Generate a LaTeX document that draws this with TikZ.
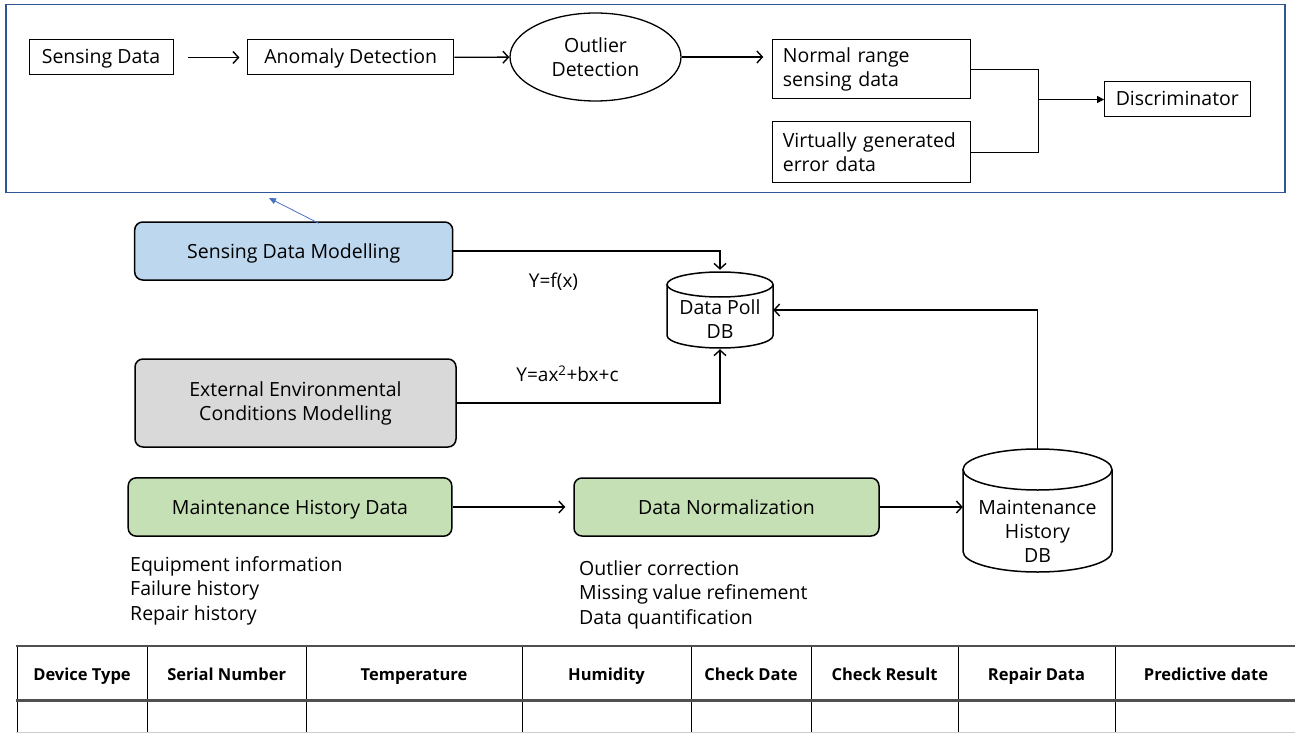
\documentclass[tikz,border=0pt]{standalone}
\usepackage{fontspec}
\setmainfont{Open Sans}
\usetikzlibrary{arrows.meta,shapes.geometric,calc}
\definecolor{frameblue}{HTML}{2F5597}
\definecolor{fillblue}{HTML}{BDD7EE}
\definecolor{fillgray}{HTML}{D9D9D9}
\definecolor{fillgreen}{HTML}{C5E0B4}
\definecolor{arrowblue}{HTML}{4472C4}
\definecolor{tablegray}{HTML}{505050}
\begin{document}
\begin{tikzpicture}[x=1pt,y=-1pt,
  every node/.style={font=\fontsize{19.5}{24}\selectfont, inner sep=0pt},
  oneline/.style={text height=14pt, text depth=1pt},
  lowline/.style={text height=14pt, text depth=-2pt},
  plainbox/.style={draw, line width=1pt, minimum height=35pt, oneline},
  leftbox/.style={draw, line width=1pt, inner xsep=10pt, text width=178pt, align=left, minimum height=59pt},
  rbox/.style={draw, line width=1.5pt, rounded corners=8pt, align=center},
  arr/.style={line width=1.4pt, -{Straight Barb[length=5.5pt,width=12pt]}},
  thinline/.style={line width=1pt},
  formula/.style={font=\fontsize{19}{22}\selectfont, text height=13.5pt, text depth=0pt},
  listtext/.style={align=left, anchor=north west, font=\fontsize{19.5}{24.5}\selectfont},
  th/.style={font=\bfseries\fontsize{16.5}{19}\selectfont, text height=12pt, text depth=0pt},
  dbline/.style={line width=1.5pt}
]
\useasboundingbox (0,0) rectangle (1295,733);

% ---------- top frame ----------
\draw[frameblue, line width=1.5pt] (6,4.5) rectangle (1285,192.5);

\node[plainbox, minimum width=144pt] (sd) at (101,57.5) {Sensing Data};
\node[plainbox, minimum width=206.5pt] (ad) at (350.7,57.5) {Anomaly Detection};
\node[ellipse, draw, line width=1.3pt, minimum width=171pt, minimum height=88pt, align=center] (od) at (595.5,57) {Outlier\\Detection};
\node[leftbox] (nr) at (871.8,69.5) {Normal range\\sensing data};
\node[leftbox, minimum height=60pt] (vg) at (871.8,152) {Virtually generated\\error data};
\node[plainbox, minimum width=145.4pt] (disc) at (1177.3,99.5) {Discriminator};
\coordinate (mj) at (1038,99.5);

\draw[arr, shorten <=14pt, shorten >=7.5pt] (sd) -- (ad);
\draw[arr] (ad) -- (od);
\draw[arr, shorten >=9pt] (od.east) -- (od.east -| nr.west);
\draw[thinline] (nr.east) -| (mj) |- (vg.east);
\draw[thinline, -{Triangle[length=7pt,width=7pt]}] (mj) -- (disc.west);

% ---------- middle ----------
\node[rbox, lowline, fill=fillblue, minimum width=318pt, minimum height=58pt] (sdm) at (293.7,251) {Sensing Data Modelling};
\node[rbox, fill=fillgray, minimum width=321pt, minimum height=88pt] (eem) at (295.5,403) {External Environmental\\Conditions Modelling};
\node[rbox, lowline, fill=fillgreen, minimum width=323.6pt, minimum height=58.3pt] (mhd) at (290,507) {Maintenance History Data};
\node[rbox, lowline, fill=fillgreen, minimum width=305pt, minimum height=58pt] (dn) at (726.5,507) {Data Normalization};

\coordinate (bt) at (269,198);
\draw[arrowblue, line width=0.8pt, -{Triangle[length=7pt,width=6pt]}] ($(sdm.north)+(25,2)$) -- (bt);

% Data Poll DB cylinder
\node[minimum width=106pt, minimum height=76pt] (dp) at (720,310) {};
\draw[dbline, fill=white] (667,284.5) -- (667,335.5) arc[start angle=180, end angle=360, x radius=53pt, y radius=12.5pt] -- (773,284.5);
\draw[dbline, fill=white] (720,284.5) ellipse [x radius=53pt, y radius=12.5pt];
\node[align=center] (dpt) at (720,319) {Data Poll\\DB};

% Maintenance History DB cylinder
\node[minimum width=149pt, minimum height=123pt] (mdb) at (1037.5,510.5) {};
\draw[dbline, fill=white] (963,469.5) -- (963,551.5) arc[start angle=180, end angle=360, x radius=74.5pt, y radius=20.5pt] -- (1112,469.5);
\draw[dbline, fill=white] (1037.5,469.5) ellipse [x radius=74.5pt, y radius=20.5pt];
\node[align=center] (mdbt) at (1037.5,531) {Maintenance\\History\\DB};

\draw[arr, shorten >=2pt] (sdm.east) -| (dp.north);
\draw[arr, shorten >=1pt] (eem.east) -| (dp.south);
\draw[arr] (mdb.north) |- (dp.east);
\draw[arr, shorten >=8pt] (mhd.east) -- (dn.west);
\draw[arr] (dn.east) -- (dn.east -| mdb.west);

\node[formula] (f1) at (553.5,281) {Y=f(x)};
\node[formula] (f2) at (567.5,375) {Y=ax\textsuperscript{2}+bx+c};

\node[listtext] (l1) at (130,556) {Equipment information\\Failure history\\Repair history};
\node[listtext] (l2) at (579,560) {Outlier correction\\Missing value refinement\\Data quantification};

% ---------- table ----------
\foreach \x in {17,147,306.5,522,691,811,958,1115}
  \draw[black, line width=1pt] (\x,645.7) -- (\x,733);
\draw[tablegray, line width=2pt] (16,645.7) -- (1295,645.7);
\draw[tablegray, line width=3pt] (16,700) -- (1295,700);
\draw[black!20, line width=1pt] (16,732.5) -- (1295,732.5);

\node[th] (h1) at (82,674.5) {Device Type};
\node[th] (h2) at (226.7,674.5) {Serial Number};
\node[th] (h3) at (414,674.5) {Temperature};
\node[th] (h4) at (606.5,674.5) {Humidity};
\node[th] (h5) at (751,674.5) {Check Date};
\node[th] (h6) at (884.5,674.5) {Check Result};
\node[th] (h7) at (1036.5,674.5) {Repair Data};
\node[th] (h8) at (1206,674.5) {Predictive date};
\end{tikzpicture}
\end{document}
